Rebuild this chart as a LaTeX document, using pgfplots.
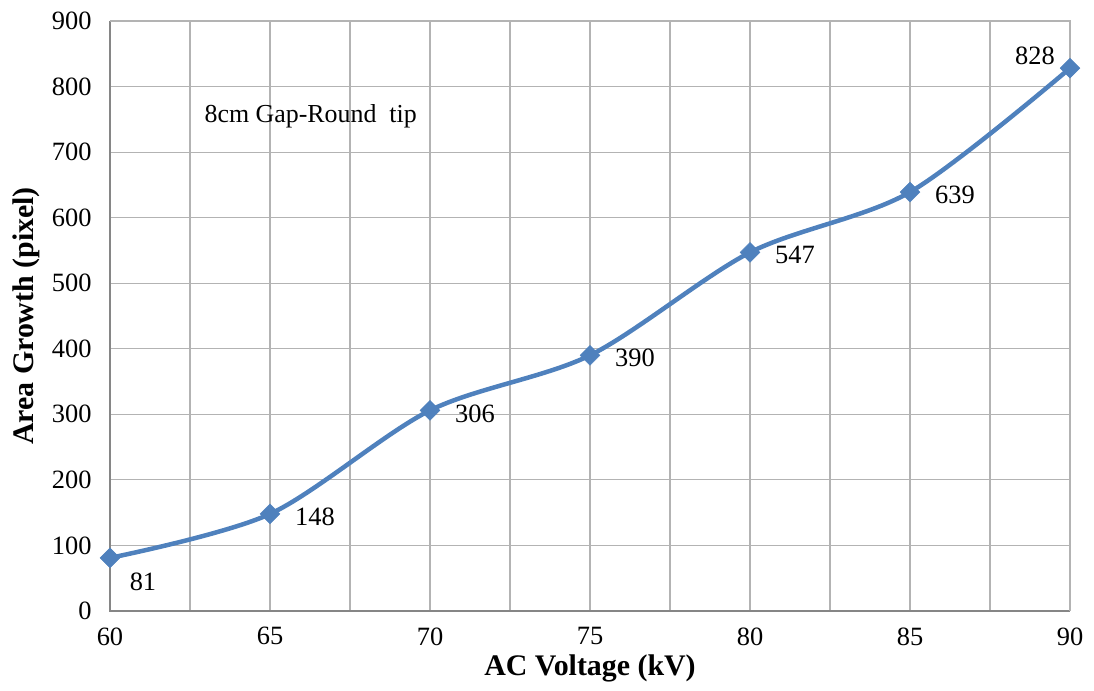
\documentclass[border=0pt]{standalone}
\usepackage{pgfplots}
\pgfplotsset{compat=1.18}
\usepackage{fontspec}
\setmainfont{Liberation Serif}
\definecolor{exblue}{HTML}{4F81BD}
\definecolor{gridgray}{HTML}{B3B3B3}
\definecolor{spinegray}{HTML}{868686}
\begin{document}
\begin{tikzpicture}
\begin{axis}[
  scale only axis,
  width=960bp, height=590bp,
  xmin=60, xmax=90, ymin=0, ymax=900,
  xtick={60,62.5,...,90},
  xticklabels={60,,65,,70,,75,,80,,85,,90},
  ytick={0,100,...,900},
  grid=major,
  major grid style={gridgray, line width=1.2bp},
  axis line style={draw=none},
  major tick length=0pt,
  tick style={draw=none},
  ticklabel style={font=\fontsize{26.5}{30}\selectfont},
  /pgf/number format/assume math mode=true,
  xticklabel style={yshift=-13bp},
  yticklabel style={xshift=-15bp},
  clip=false,
]
% spines
\draw[spinegray, line width=1.4bp] (axis cs:60,900) -- (axis cs:60,0) -- (axis cs:90,0);
\draw[gridgray, line width=1.2bp] (axis cs:60,900) -- (axis cs:90,900) -- (axis cs:90,0);
\addplot[exblue, line width=4.5bp, smooth, tension=0.5, mark=square*, mark size=7bp,
  mark options={fill=exblue, draw=exblue, line width=0.5bp, rotate=45}]
  coordinates {(60,81) (65,148) (70,306) (75,390) (80,547) (85,639) (90,828)};
% labels
\addplot[only marks, mark=none, nodes near coords, point meta=explicit symbolic,
  nodes near coords style={anchor=center, font=\fontsize{26.5}{30}\selectfont, xshift=45bp, yshift=-3bp}]
  coordinates {(65,148)[148] (70,306)[306] (75,390)[390] (80,547)[547] (85,639)[639]};
\addplot[only marks, mark=none, nodes near coords, point meta=explicit symbolic,
  nodes near coords style={anchor=center, font=\fontsize{26.5}{30}\selectfont, xshift=33bp, yshift=-24bp}]
  coordinates {(60,81)[81]};
\addplot[only marks, mark=none, nodes near coords, point meta=explicit symbolic,
  nodes near coords style={anchor=center, font=\fontsize{26.5}{30}\selectfont, xshift=-35bp, yshift=12bp}]
  coordinates {(90,828)[828]};
\node[anchor=west, font=\fontsize{26}{30}\selectfont, inner sep=0pt] at (axis cs:62.95,755) {8cm Gap-Round\ \ tip};
\end{axis}
\node[font=\fontsize{30}{34}\selectfont\bfseries, anchor=center] at ([yshift=-57bp]current axis.south) {AC Voltage (kV)};
\node[font=\fontsize{30}{34}\selectfont\bfseries, anchor=center, rotate=90] at ([xshift=-84bp]current axis.west) {Area Growth (pixel)};
\pgfresetboundingbox
\path[use as bounding box] ([xshift=-110bp,yshift=-80bp]current axis.south west) rectangle ([xshift=24bp,yshift=21bp]current axis.north east);
\end{tikzpicture}
\end{document}
